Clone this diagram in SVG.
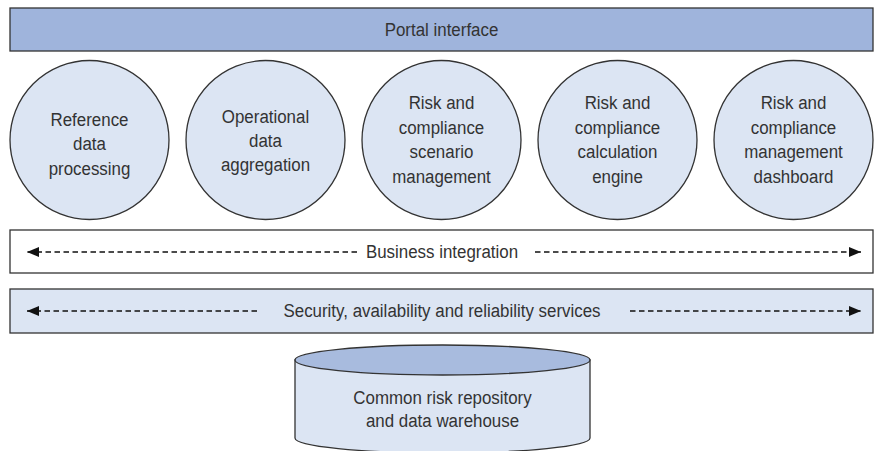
<svg xmlns="http://www.w3.org/2000/svg" width="875" height="451" viewBox="0 0 875 451">
<defs>
<style>
.box{stroke:#333;stroke-width:1.3}
.dark{fill:#9fb4dc}
.light{fill:#dce5f3}
.white{fill:#fff}
text{font-family:"Liberation Sans",Arial,sans-serif;font-size:19px;fill:#333;text-anchor:middle}
.dash{stroke:#111;stroke-width:1.4;stroke-dasharray:5.5,3.5;fill:none}
</style>
<marker id="ah" viewBox="0 0 12 10" refX="12" refY="5" markerWidth="12" markerHeight="10" markerUnits="userSpaceOnUse" orient="auto-start-reverse">
<path d="M0,0 L12,5 L0,10 Z" fill="#111"/>
</marker>
</defs>
<rect width="875" height="451" fill="#fff"/>

<g id="portal">
<rect class="box dark" x="10" y="8" width="863" height="43"/>
<text transform="translate(441.5,36) scale(0.89,1)">Portal interface</text>
</g>

<g id="ref-data">
<circle class="box light" cx="89.5" cy="140" r="79.5"/>
<text transform="translate(89.5,126) scale(0.89,1)">Reference</text>
<text transform="translate(89.5,150) scale(0.89,1)">data</text>
<text transform="translate(89.5,175) scale(0.89,1)">processing</text>
</g>

<g id="op-data">
<circle class="box light" cx="265.5" cy="140" r="79.5"/>
<text transform="translate(265.5,123) scale(0.89,1)">Operational</text>
<text transform="translate(265.5,147) scale(0.89,1)">data</text>
<text transform="translate(265.5,171) scale(0.89,1)">aggregation</text>
</g>

<g id="scenario">
<circle class="box light" cx="441.5" cy="140" r="79.5"/>
<text transform="translate(441.5,109) scale(0.89,1)">Risk and</text>
<text transform="translate(441.5,134) scale(0.89,1)">compliance</text>
<text transform="translate(441.5,158) scale(0.89,1)">scenario</text>
<text transform="translate(441.5,183) scale(0.89,1)">management</text>
</g>

<g id="calc-engine">
<circle class="box light" cx="617.5" cy="140" r="79.5"/>
<text transform="translate(617.5,109) scale(0.89,1)">Risk and</text>
<text transform="translate(617.5,134) scale(0.89,1)">compliance</text>
<text transform="translate(617.5,158) scale(0.89,1)">calculation</text>
<text transform="translate(617.5,183) scale(0.89,1)">engine</text>
</g>

<g id="dashboard">
<circle class="box light" cx="793.5" cy="140" r="79.5"/>
<text transform="translate(793.5,109) scale(0.89,1)">Risk and</text>
<text transform="translate(793.5,134) scale(0.89,1)">compliance</text>
<text transform="translate(793.5,158) scale(0.89,1)">management</text>
<text transform="translate(793.5,183) scale(0.89,1)">dashboard</text>
</g>

<g id="business">
<rect class="box white" x="10" y="230" width="863" height="43"/>
<text transform="translate(442,258) scale(0.89,1)">Business integration</text>
</g>

<g id="security">
<rect class="box light" x="10" y="289" width="863" height="44"/>
<text transform="translate(442,317) scale(0.89,1)">Security, availability and reliability services</text>
</g>

<g id="repository">
<path class="box light" d="M295,360 L295,438 A147.5,15 0 0 0 590,438 L590,360 Z"/>
<ellipse class="box" cx="442.5" cy="360" rx="147.5" ry="15" fill="#a8bbde"/>
<text transform="translate(442.5,404) scale(0.89,1)">Common risk repository</text>
<text transform="translate(442.5,427) scale(0.89,1)">and data warehouse</text>
</g>

<g id="connectors">
<line class="dash" x1="357" y1="252" x2="27" y2="252" marker-end="url(#ah)"/>
<line class="dash" x1="535" y1="252" x2="861" y2="252" marker-end="url(#ah)"/>
<line class="dash" x1="257" y1="311" x2="27" y2="311" marker-end="url(#ah)"/>
<line class="dash" x1="630" y1="311" x2="861" y2="311" marker-end="url(#ah)"/>
</g>
</svg>
